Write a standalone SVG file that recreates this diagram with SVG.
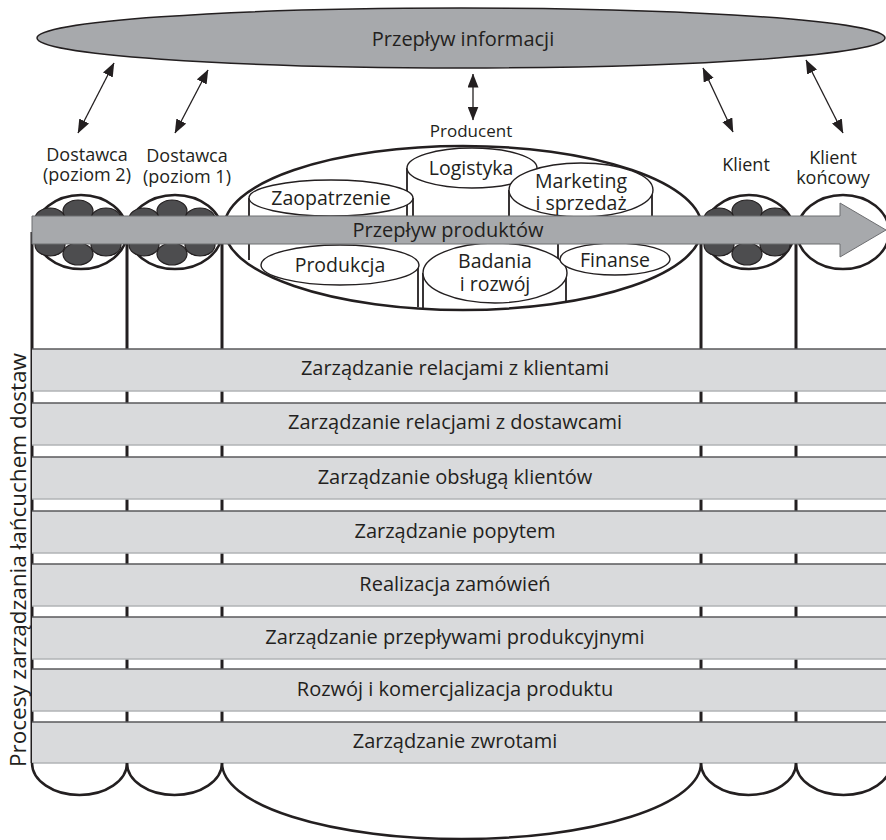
<svg xmlns="http://www.w3.org/2000/svg" width="886" height="840" viewBox="0 0 886 840">
<defs>
  <marker id="ah" viewBox="0 0 14 11" refX="13.5" refY="5.5" markerWidth="14" markerHeight="11" markerUnits="userSpaceOnUse" orient="auto-start-reverse">
    <path d="M0,0 L14,5.5 L0,11 Z" fill="#231f20"/>
  </marker>
  <!-- cluster of dark cells inside a partner circle -->
  <g id="pod">
    <ellipse cx="-28" cy="-13" rx="15" ry="11"/>
    <ellipse cx="28" cy="-13" rx="15" ry="11"/>
    <ellipse cx="-28" cy="13" rx="15" ry="11"/>
    <ellipse cx="28" cy="13" rx="15" ry="11"/>
    <ellipse cx="0" cy="-21" rx="15" ry="11"/>
    <ellipse cx="0" cy="22" rx="15" ry="11"/>
  </g>
</defs>
<style>
  text { font-family: "Open Sans", "Noto Sans", "Liberation Sans", sans-serif; font-size: 18px; fill: #231f20; text-anchor: middle; }
  .big { font-size: 20px; }
  .dep { font-size: 19.5px; }
  .link { stroke: #231f20; stroke-width: 1.3; fill: none; marker-start: url(#ah); marker-end: url(#ah); }
  .col { stroke: #231f20; stroke-width: 3; fill: none; }
  .unit { fill: #ffffff; stroke: #231f20; stroke-width: 2.5; }
  .cells { fill: #4d4d4f; stroke: #231f20; stroke-width: 1.2; }
  .dept { fill: #ffffff; stroke: #231f20; stroke-width: 1.4; }
  .side { stroke: #231f20; stroke-width: 1.8; fill: none; }
  .bar { fill: #d9dadc; }
  .barTop { stroke: #58595b; stroke-width: 1.5; }
  .barBot { stroke: #b1b3b6; stroke-width: 1.5; }
  .flow { fill: #a7a9ac; }
</style>

<!-- information flow -->
<g id="info">
  <ellipse cx="461" cy="38" rx="424" ry="30" class="flow" stroke="#231f20" stroke-width="1.5"/>
  <text class="big" x="463" y="46">Przepływ informacji</text>
</g>

<!-- column lines -->
<g id="columns" class="col">
  <line x1="32" y1="232" x2="32" y2="763"/>
  <line x1="127" y1="232" x2="127" y2="763"/>
  <line x1="222" y1="232" x2="222" y2="763"/>
  <line x1="701" y1="232" x2="701" y2="763"/>
  <line x1="796" y1="232" x2="796" y2="763"/>
</g>

<g id="connectors">
  <line class="link" x1="114" y1="63" x2="78" y2="133"/>
  <line class="link" x1="208" y1="70" x2="175" y2="133"/>
  <line class="link" x1="473" y1="74" x2="473" y2="120"/>
  <line class="link" x1="703" y1="68" x2="733" y2="132"/>
  <line class="link" x1="806" y1="60" x2="843" y2="133"/>
</g>

<g id="supplier2">
  <text x="87" y="161">Dostawca<tspan x="87" dy="20">(poziom 2)</tspan></text>
  <ellipse class="unit" cx="81" cy="232" rx="46" ry="37"/>
  <use href="#pod" x="78" y="232" class="cells"/>
</g>

<g id="supplier1">
  <text x="187" y="162">Dostawca<tspan x="187" dy="21">(poziom 1)</tspan></text>
  <ellipse class="unit" cx="175" cy="232" rx="47" ry="37"/>
  <use href="#pod" x="172" y="232" class="cells"/>
</g>

<g id="client">
  <text x="746" y="171">Klient</text>
  <ellipse class="unit" cx="749" cy="232" rx="45" ry="37"/>
  <use href="#pod" x="747" y="232" class="cells"/>
</g>

<g id="endClient">
  <text x="833" y="164">Klient<tspan x="833" dy="20">końcowy</tspan></text>
  <ellipse class="unit" cx="843" cy="232" rx="46" ry="37"/>
</g>

<g id="producer">
  <text x="471" y="137" style="font-size:17px">Producent</text>
  <ellipse cx="463" cy="228" rx="239" ry="82" fill="#ffffff" stroke="#231f20" stroke-width="2.5"/>
  <!-- cylinder sides -->
  <g class="side">
    <line x1="407" y1="168" x2="407" y2="216"/>
    <line x1="249" y1="198" x2="249" y2="260"/>
    <line x1="413" y1="198" x2="413" y2="216"/>
    <line x1="418" y1="265" x2="418" y2="307"/>
    <line x1="423" y1="273" x2="423" y2="308"/>
    <line x1="509" y1="190" x2="509" y2="216"/>
    <line x1="652" y1="190" x2="652" y2="217"/>
    <line x1="558" y1="244" x2="558" y2="259"/>
    <line x1="566" y1="273" x2="566" y2="302"/>
  </g>
  <ellipse class="dept" cx="472" cy="168" rx="65" ry="20"/>
  <text class="dep" x="471" y="175">Logistyka</text>
  <ellipse class="dept" cx="331" cy="198" rx="82" ry="18"/>
  <text class="dep" x="331" y="205">Zaopatrzenie</text>
  <ellipse class="dept" cx="581" cy="190" rx="72" ry="27"/>
  <text class="dep" x="581" y="188">Marketing<tspan x="581" dy="22">i sprzedaż</tspan></text>
  <ellipse class="dept" cx="340" cy="265" rx="79" ry="20"/>
  <text class="dep" x="340" y="272">Produkcja</text>
  <ellipse class="dept" cx="495" cy="273" rx="72" ry="30"/>
  <text class="dep" x="495" y="268">Badania<tspan x="495" dy="23">i rozwój</tspan></text>
  <ellipse class="dept" cx="615" cy="259" rx="55" ry="16"/>
  <text class="dep" x="615" y="267">Finanse</text>
</g>

<!-- product flow arrow -->
<g id="productFlow">
  <path class="flow" d="M32,216 H840 V203 L886,230 L840,257 V244 H32 Z" stroke="#6d6e71" stroke-width="1"/>
  <text class="big" x="448" y="237">Przepływ produktów</text>
</g>

<!-- process bars -->
<g id="processes" class="big">
  <g id="p1"><rect class="bar" x="32" y="349" width="854" height="42"/><line class="barTop" x1="32" y1="349" x2="886" y2="349"/><line class="barBot" x1="32" y1="391" x2="886" y2="391"/><text class="big" x="455" y="375">Zarządzanie relacjami z klientami</text></g>
  <g id="p2"><rect class="bar" x="32" y="403" width="854" height="42"/><line class="barTop" x1="32" y1="403" x2="886" y2="403"/><line class="barBot" x1="32" y1="445" x2="886" y2="445"/><text class="big" x="455" y="429">Zarządzanie relacjami z dostawcami</text></g>
  <g id="p3"><rect class="bar" x="32" y="457" width="854" height="42"/><line class="barTop" x1="32" y1="457" x2="886" y2="457"/><line class="barBot" x1="32" y1="499" x2="886" y2="499"/><text class="big" x="455" y="484">Zarządzanie obsługą klientów</text></g>
  <g id="p4"><rect class="bar" x="32" y="511" width="854" height="42"/><line class="barTop" x1="32" y1="511" x2="886" y2="511"/><line class="barBot" x1="32" y1="553" x2="886" y2="553"/><text class="big" x="455" y="538">Zarządzanie popytem</text></g>
  <g id="p5"><rect class="bar" x="32" y="564" width="854" height="42"/><line class="barTop" x1="32" y1="564" x2="886" y2="564"/><line class="barBot" x1="32" y1="606" x2="886" y2="606"/><text class="big" x="455" y="591">Realizacja zamówień</text></g>
  <g id="p6"><rect class="bar" x="32" y="617" width="854" height="42"/><line class="barTop" x1="32" y1="617" x2="886" y2="617"/><line class="barBot" x1="32" y1="659" x2="886" y2="659"/><text class="big" x="455" y="644">Zarządzanie przepływami produkcyjnymi</text></g>
  <g id="p7"><rect class="bar" x="32" y="669" width="854" height="42"/><line class="barTop" x1="32" y1="669" x2="886" y2="669"/><line class="barBot" x1="32" y1="711" x2="886" y2="711"/><text class="big" x="455" y="696">Rozwój i komercjalizacja produktu</text></g>
  <g id="p8"><rect class="bar" x="32" y="722" width="854" height="41"/><line class="barTop" x1="32" y1="722" x2="886" y2="722"/><line class="barBot" x1="32" y1="763" x2="886" y2="763"/><text class="big" x="455" y="748">Zarządzanie zwrotami</text></g>
</g>

<!-- column ends -->
<g id="bottoms" fill="none" stroke="#231f20" stroke-width="2.5">
  <path d="M32,763 A47.5,32 0 0 0 127,763"/>
  <path d="M127,763 A47.5,32 0 0 0 222,763"/>
  <path d="M222,763 A239.5,76 0 0 0 701,763"/>
  <path d="M701,763 A47.5,32 0 0 0 796,763"/>
  <path d="M796,763 A47.5,32 0 0 0 891,763"/>
</g>

<text transform="translate(26,560) rotate(-90)" style="font-size:22.5px">Procesy zarządzania łańcuchem dostaw</text>
</svg>
